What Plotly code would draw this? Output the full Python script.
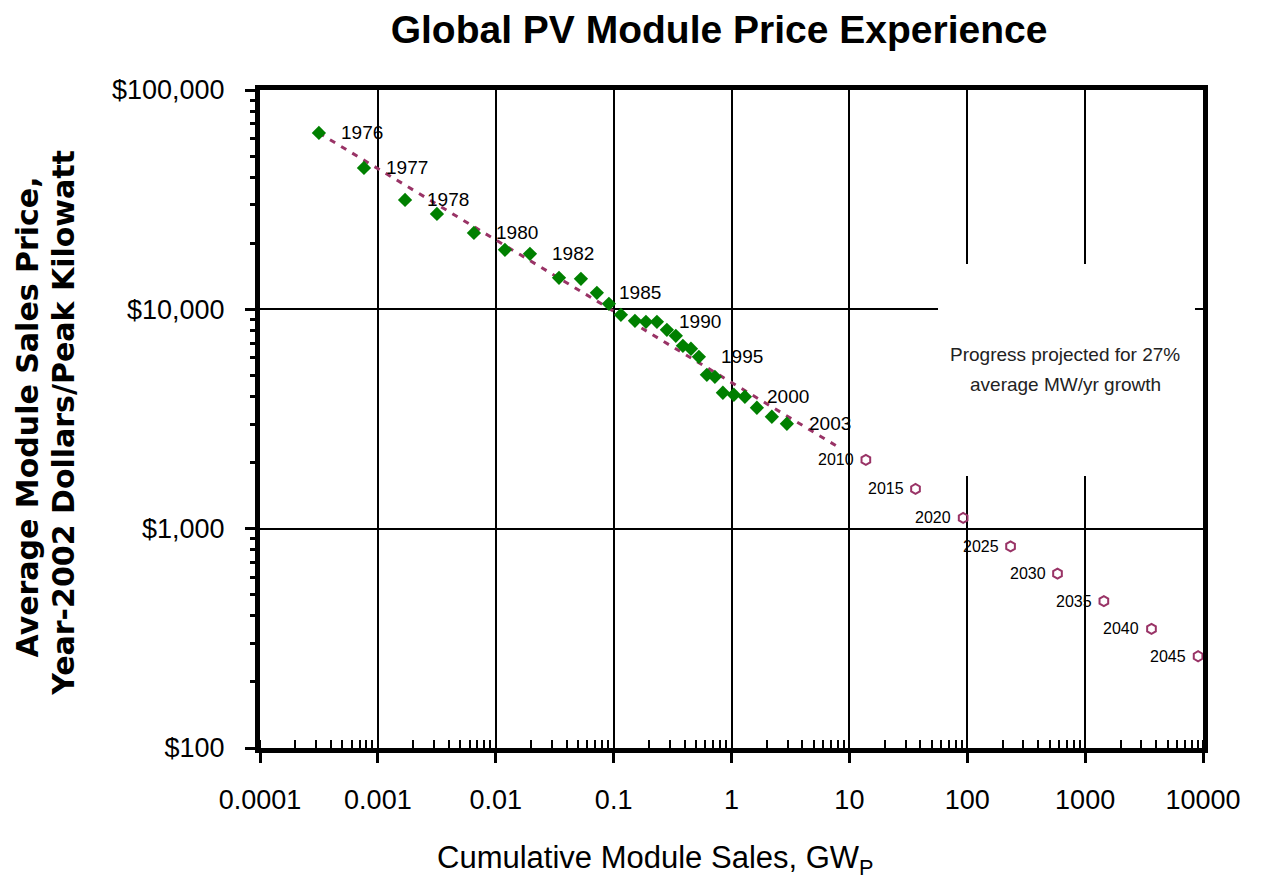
import numpy as np
import plotly.graph_objects as go

# ---- data ----
hist_years = list(range(1976, 2004))
hist_gw = [0.000316, 0.000762, 0.0017, 0.00317, 0.00653, 0.01197, 0.0195, 0.0344,
           0.0528, 0.0721, 0.0912, 0.1153, 0.1517, 0.188, 0.233, 0.283, 0.337,
           0.387, 0.453, 0.529, 0.618, 0.723, 0.845, 1.048, 1.299, 1.642, 2.20, 2.95]
hist_price = [63700, 44150, 31540, 27230, 22310, 18670, 17900, 13920, 13770, 11890,
              10590, 9440, 8860, 8770, 8770, 8065, 7575, 6820, 6610, 6075, 5030,
              4925, 4165, 4080, 3995, 3558, 3238, 3008]
hist_labeled = [1976, 1977, 1978, 1980, 1982, 1985, 1990, 1995, 2000, 2003]

proj_years = [2010, 2015, 2020, 2025, 2030, 2035, 2040, 2045]
proj_gw = [13.8, 36.4, 92.3, 233, 583, 1442, 3656, 9087]
proj_price = [2060, 1517, 1119, 830, 624, 467, 349, 262]

trend_gw = [0.000316, 8.5]
trend_price = [63700, 2315]

x_tickvals = [0.0001, 0.001, 0.01, 0.1, 1, 10, 100, 1000, 10000]
x_ticktext = ["0.0001", "0.001", "0.01", "0.1", "1", "10", "100", "1000", "10000"]
y_tickvals = [100, 1000, 10000, 100000]
y_ticktext = ["$100", "$1,000", "$10,000", "$100,000"]

title_text = "Global PV Module Price Experience"
x_title = "Cumulative Module Sales, GW<sub>P</sub>"
y_title_1 = "Average Module Sales Price,"
y_title_2 = "Year-2002 Dollars/Peak Kilowatt"
note_line_1 = "Progress projected for 27%"
note_line_2 = "average MW/yr growth"

SANS = "Liberation Sans, Arial, Helvetica, sans-serif"
GREEN = "#008000"
PURPLE = "#993366"

fig = go.Figure()

fig.add_trace(go.Scatter(
    x=trend_gw, y=trend_price, mode="lines",
    line=dict(color=PURPLE, width=3, dash="6px,7px"),
    hoverinfo="skip", showlegend=False))

fig.add_trace(go.Scatter(
    x=hist_gw, y=hist_price, mode="markers",
    marker=dict(symbol="diamond", size=11, color=GREEN),
    showlegend=False, cliponaxis=False))

fig.add_trace(go.Scatter(
    x=proj_gw, y=proj_price, mode="markers",
    marker=dict(symbol="hexagon-open", size=10, color=PURPLE, line=dict(width=2, color=PURPLE)),
    showlegend=False, cliponaxis=False))

annotations = []
for yr, gx, py in zip(hist_years, hist_gw, hist_price):
    if yr in hist_labeled:
        annotations.append(dict(
            x=np.log10(gx), y=np.log10(py), xref="x", yref="y",
            text=str(yr), showarrow=False, xanchor="left", yanchor="middle",
            xshift=20, font=dict(family=SANS, size=19, color="black")))
for yr, gx, py in zip(proj_years, proj_gw, proj_price):
    annotations.append(dict(
        x=np.log10(gx), y=np.log10(py), xref="x", yref="y",
        text=str(yr), showarrow=False, xanchor="right", yanchor="middle",
        xshift=-10, font=dict(family=SANS, size=16, color="black")))

# note text (two lines)
annotations.append(dict(
    x=0.8537, y=0.5973, xref="paper", yref="paper", text=note_line_1,
    showarrow=False, xanchor="center", yanchor="middle",
    font=dict(family=SANS, size=19, color="#222")))
annotations.append(dict(
    x=0.8537, y=0.5517, xref="paper", yref="paper", text=note_line_2,
    showarrow=False, xanchor="center", yanchor="middle",
    font=dict(family=SANS, size=19, color="#222")))

# axis titles
annotations.append(dict(
    x=0.419, y=-0.1702, xref="paper", yref="paper", text=x_title,
    showarrow=False, xanchor="center", yanchor="middle",
    font=dict(family=SANS, size=31, color="black")))
annotations.append(dict(
    x=-0.2466, y=0.503, xref="paper", yref="paper", text=y_title_1, textangle=-90,
    showarrow=False, xanchor="center", yanchor="middle",
    font=dict(family="DejaVu Sans", size=30, color="black", weight="bold")))
annotations.append(dict(
    x=-0.2084, y=0.495, xref="paper", yref="paper", text=y_title_2, textangle=-90,
    showarrow=False, xanchor="center", yanchor="middle",
    font=dict(family="DejaVu Sans", size=30, color="black", weight="bold")))

# white box behind the note (hides the grid there)
shapes = [dict(type="rect", xref="paper", yref="paper",
               x0=0.719, x1=0.9915, y0=0.4134, y1=0.7356,
               fillcolor="white", line=dict(width=0), layer="above")]

W, H = 1253, 875  # page body adds an 8px margin
fig.update_layout(
    width=W, height=H,
    margin=dict(l=252, r=58, t=82, b=135),
    paper_bgcolor="white", plot_bgcolor="white",
    title=dict(text=title_text, x=711 / W, y=1 - 21 / H, xref="container", yref="container",
               xanchor="center", yanchor="middle",
               font=dict(family=SANS, size=39, color="black", weight="bold")),
    annotations=annotations,
    shapes=shapes,
    showlegend=False,
)

fig.update_xaxes(
    type="log", range=[-4, 4],
    tickvals=x_tickvals, ticktext=x_ticktext,
    tickfont=dict(family=SANS, size=27, color="black"),
    ticks="outside", ticklen=10, tickwidth=3, tickcolor="black",
    ticklabelstandoff=14,
    showgrid=True, gridcolor="black", gridwidth=2,
    showline=True, linecolor="black", linewidth=5, mirror=True,
    zeroline=False,
    minor=dict(ticks="inside", ticklen=8, tickwidth=2, tickcolor="black",
               dtick="D1", showgrid=False),
)
fig.update_yaxes(
    type="log", range=[2, 5],
    tickvals=y_tickvals, ticktext=y_ticktext,
    tickfont=dict(family=SANS, size=27, color="black"),
    ticks="outside", ticklen=10, tickwidth=3, tickcolor="black",
    ticklabelstandoff=15,
    showgrid=True, gridcolor="black", gridwidth=2,
    showline=True, linecolor="black", linewidth=5, mirror=True,
    zeroline=False,
    minor=dict(ticks="outside", ticklen=5, tickwidth=3, tickcolor="black",
               dtick="D1", showgrid=False),
)

fig.write_html("out.html")
